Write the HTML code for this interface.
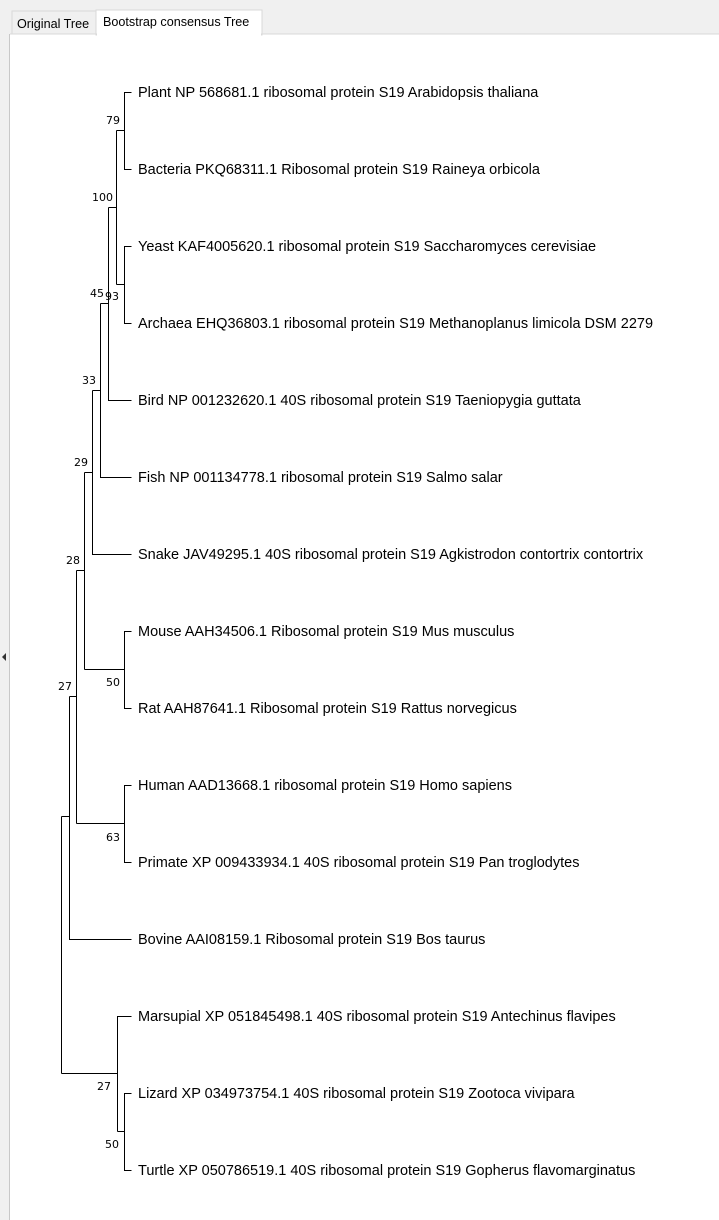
<!DOCTYPE html>
<html><head><meta charset="utf-8"><style>
html,body{margin:0;padding:0;width:719px;height:1220px;overflow:hidden;background:#fff;font-family:"Liberation Sans",Arial,sans-serif}
</style></head><body>
<svg width="719" height="1220" xmlns="http://www.w3.org/2000/svg" style="position:absolute;left:0;top:0">
<rect x="0" y="0" width="719" height="1220" fill="#fff"/>
<rect x="0" y="0" width="10" height="1220" fill="#f0f0f0"/>
<line x1="9.5" y1="33" x2="9.5" y2="1220" stroke="#c8c8c8"/>
<rect x="0" y="0" width="719" height="34" fill="#f0f0f0"/>
<rect x="12" y="11" width="84" height="23" fill="#f0f0f0" stroke="#d9d9d9"/>
<rect x="96" y="10" width="166" height="25" fill="#fff" stroke="#d9d9d9"/>
<line x1="10" y1="34" x2="719" y2="34" stroke="#d9d9d9"/>
<rect x="97" y="33" width="164" height="3" fill="#fff"/>
<text x="17" y="28" font-size="12.6" fill="#000">Original Tree</text>
<text x="103" y="26" font-size="12.6" fill="#000">Bootstrap consensus Tree</text>
<polygon points="6,653 6,661 2,657" fill="#333"/>
<g stroke="#000" stroke-width="1" fill="none" shape-rendering="crispEdges">
<path d="M131.5 92.5H124.5V169.5H131.5M124.5 130.5H116.5"/>
<path d="M131.5 246.5H124.5V323.5H131.5M124.5 284.5H116.5"/>
<path d="M116.5 130.5V284.5M116.5 207.5H108.5"/>
<path d="M108.5 207.5V400.5H131.5M108.5 303.5H100.5"/>
<path d="M100.5 303.5V477.5H131.5M100.5 390.5H92.5"/>
<path d="M92.5 390.5V554.5H131.5M92.5 472.5H84.5"/>
<path d="M131.5 631.5H124.5V708.5H131.5M124.5 669.5H84.5"/>
<path d="M84.5 472.5V669.5M84.5 570.5H76.5"/>
<path d="M131.5 785.5H124.5V862.5H131.5M124.5 823.5H76.5"/>
<path d="M76.5 570.5V823.5M76.5 696.5H69.5"/>
<path d="M69.5 696.5V939.5H131.5M69.5 816.5H61.5"/>
<path d="M131.5 1093.5H124.5V1170.5H131.5M124.5 1131.5H117.5"/>
<path d="M131.5 1016.5H117.5V1131.5M117.5 1073.5H61.5"/>
<path d="M61.5 816.5V1073.5"/>
</g>
<g font-size="14.5" fill="#000">
<text x="138" y="97">Plant NP 568681.1 ribosomal protein S19 Arabidopsis thaliana</text>
<text x="138" y="174">Bacteria PKQ68311.1 Ribosomal protein S19 Raineya orbicola</text>
<text x="138" y="251">Yeast KAF4005620.1 ribosomal protein S19 Saccharomyces cerevisiae</text>
<text x="138" y="328">Archaea EHQ36803.1 ribosomal protein S19 Methanoplanus limicola DSM 2279</text>
<text x="138" y="405">Bird NP 001232620.1 40S ribosomal protein S19 Taeniopygia guttata</text>
<text x="138" y="482">Fish NP 001134778.1 ribosomal protein S19 Salmo salar</text>
<text x="138" y="559">Snake JAV49295.1 40S ribosomal protein S19 Agkistrodon contortrix contortrix</text>
<text x="138" y="636">Mouse AAH34506.1 Ribosomal protein S19 Mus musculus</text>
<text x="138" y="713">Rat AAH87641.1 Ribosomal protein S19 Rattus norvegicus</text>
<text x="138" y="790">Human AAD13668.1 ribosomal protein S19 Homo sapiens</text>
<text x="138" y="867">Primate XP 009433934.1 40S ribosomal protein S19 Pan troglodytes</text>
<text x="138" y="944">Bovine AAI08159.1 Ribosomal protein S19 Bos taurus</text>
<text x="138" y="1021">Marsupial XP 051845498.1 40S ribosomal protein S19 Antechinus flavipes</text>
<text x="138" y="1098">Lizard XP 034973754.1 40S ribosomal protein S19 Zootoca vivipara</text>
<text x="138" y="1175">Turtle XP 050786519.1 40S ribosomal protein S19 Gopherus flavomarginatus</text>
</g>
<g font-size="11" fill="#000" font-family="'DejaVu Sans',sans-serif">
<text x="106" y="124">79</text>
<text x="92" y="201">100</text>
<text x="90" y="297">45</text>
<text x="105" y="300">93</text>
<text x="82" y="384">33</text>
<text x="74" y="466">29</text>
<text x="66" y="564">28</text>
<text x="106" y="686">50</text>
<text x="58" y="690">27</text>
<text x="106" y="841">63</text>
<text x="97" y="1090">27</text>
<text x="105" y="1148">50</text>
</g>
</svg>
</body></html>
